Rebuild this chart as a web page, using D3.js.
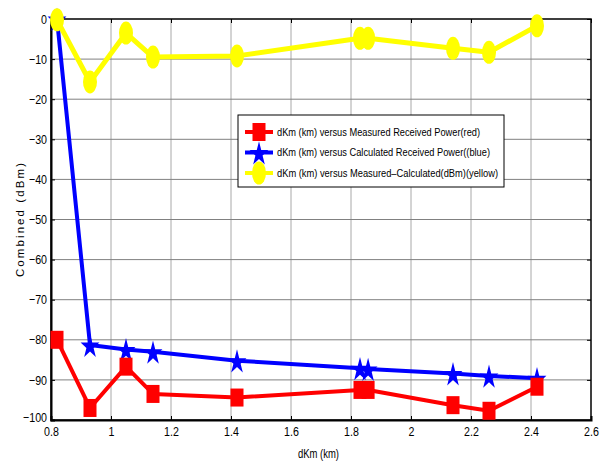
<!DOCTYPE html>
<html>
<head>
<meta charset="utf-8">
<script src="https://cdn.jsdelivr.net/npm/d3@7"></script>
<style>
  body { margin: 0; background: #fff; }
  svg { display: block; }
  text { font-family: "Liberation Sans", Arial, sans-serif; }
</style>
</head>
<body>
<svg id="chart" width="602" height="463"></svg>
<script>
// values
let distances = [0.82, 0.93, 1.05, 1.14, 1.42, 1.83, 1.857, 2.14, 2.26, 2.42];
let measured = [-80, -97, -86.7, -93.5, -94.4, -92.5, -92.5, -96.3, -97.7, -91.7];
let calculated = [0, -81.3, -82.4, -83, -85.2, -87.1, -87.3, -88.4, -89, -89.6];
let difference = [-0.2, -15.7, -3.5, -9.5, -9.2, -4.8, -4.8, -7.3, -8.3, -1.7];
let xTicks = [0.8, 1, 1.2, 1.4, 1.6, 1.8, 2, 2.2, 2.4, 2.6];
let yTicks = [0, -10, -20, -30, -40, -50, -60, -70, -80, -90, -100];
let legendLabels = [
  "dKm (km) versus Measured Received Power(red)",
  "dKm (km) versus Calculated Received Power((blue)",
  "dKm (km) versus Measured\u2013Calculated(dBm)(yellow)",
];

let svg = d3.select("#chart");

let dims = { left: 51, right: 591, top: 19, bottom: 420 };

let xScale = d3.scaleLinear().domain([0.8, 2.6]).range([dims.left, dims.right]);
let yScale = d3.scaleLinear().domain([-100, 0]).range([dims.bottom, dims.top]);

// squeeze a text to look like the narrow matlab font
function narrow(sel, k) {
  sel.each(function () {
    let w = this.getComputedTextLength();
    d3.select(this).attr("textLength", w * k).attr("lengthAdjust", "spacingAndGlyphs");
  });
}

// grid
let grid = svg.append("g");
grid.selectAll(".gx")
  .data(xTicks.slice(1, -1))
  .enter()
  .append("line")
  .attr("x1", (d) => xScale(d)).attr("x2", (d) => xScale(d))
  .attr("y1", dims.top).attr("y2", dims.bottom)
  .attr("stroke", "#a8a8a8").attr("stroke-width", 1);
grid.selectAll(".gy")
  .data(yTicks.slice(1, -1))
  .enter()
  .append("line")
  .attr("y1", (d) => yScale(d)).attr("y2", (d) => yScale(d))
  .attr("x1", dims.left).attr("x2", dims.right)
  .attr("stroke", "#808080").attr("stroke-width", 1);

// box
svg.append("rect")
  .attr("x", dims.left).attr("y", dims.top)
  .attr("width", dims.right - dims.left).attr("height", dims.bottom - dims.top)
  .attr("fill", "none").attr("stroke", "#000").attr("stroke-width", 1.5);

// axes
let xAxis = d3.axisBottom(xScale).tickValues(xTicks).tickSize(-4).tickPadding(9).tickFormat(d3.format("~g"));
let yAxis = d3.axisLeft(yScale).tickValues(yTicks).tickSize(-4).tickPadding(4).tickFormat(d3.format("~g"));

let gx = svg.append("g").attr("transform", "translate(0," + dims.bottom + ")").call(xAxis);
let gy = svg.append("g").attr("transform", "translate(" + dims.left + ",0)").call(yAxis);
[gx, gy].forEach((g) => {
  g.select(".domain").attr("stroke", "#000").attr("stroke-width", 2);
  g.selectAll(".tick line").attr("stroke", "#000");
  g.selectAll(".tick text").attr("font-size", 13).attr("fill", "#000").call(narrow, 0.82);
});
gx.selectAll(".tick text").attr("dy", "0.55em");
// the bottom y label sits just above the first x label
gy.selectAll(".tick text").filter((d) => d === -100).attr("dy", "0.1em");

// top and right ticks
svg.append("g").attr("transform", "translate(0," + dims.top + ")")
  .call(d3.axisTop(xScale).tickValues(xTicks).tickSize(-4).tickFormat(""))
  .call((g) => g.select(".domain").remove());
svg.append("g").attr("transform", "translate(" + dims.right + ",0)")
  .call(d3.axisRight(yScale).tickValues(yTicks).tickSize(-4).tickFormat(""))
  .call((g) => g.select(".domain").remove());

// labels
svg.append("text")
  .text("dKm (km)")
  .attr("x", 298).attr("y", 458)
  .attr("font-size", 12)
  .attr("textLength", 41).attr("lengthAdjust", "spacingAndGlyphs");
svg.append("text")
  .text("Combined (dBm)")
  .attr("transform", "translate(24,277) rotate(-90)")
  .attr("font-size", 11.5)
  .attr("textLength", 114).attr("lengthAdjust", "spacing");

let series = [
  { values: measured, color: "#ff0000", shape: "square" },
  { values: calculated, color: "#0000ff", shape: "star" },
  { values: difference, color: "#ffff00", shape: "circle" },
];

let line = d3.line().x((d) => xScale(d[0])).y((d) => yScale(d[1]));

function drawMarker(g, shape, color, x, y) {
  if (shape === "square") {
    g.append("rect")
      .attr("x", x - 6.5).attr("y", y - 9).attr("width", 13).attr("height", 18)
      .attr("fill", color);
  } else if (shape === "circle") {
    g.append("ellipse")
      .attr("cx", x).attr("cy", y).attr("rx", 7).attr("ry", 11.5)
      .attr("fill", color);
  } else {
    g.append("path")
      .attr("d", d3.symbol().type(d3.symbolStar).size(110)())
      .attr("transform", "translate(" + x + "," + (y + 1.5) + ") scale(1,1.3)")
      .attr("fill", color);
  }
}

// blue first, then red, then yellow (yellow on top)
[series[1], series[0], series[2]].forEach((s) => {
  let pts = distances.map((d, i) => [d, s.values[i]]);
  let g = svg.append("g");
  g.append("path")
    .attr("d", line(pts))
    .attr("fill", "none")
    .attr("stroke", s.color)
    .attr("stroke-width", s.shape === "circle" ? 5 : 4)
    .attr("stroke-linejoin", "round");
  pts.forEach((p) => drawMarker(g, s.shape, s.color, xScale(p[0]), yScale(p[1])));
});

// legend
let legendWidths = [203, 213, 221];
let legend = svg.append("g");
legend.append("rect")
  .attr("x", 238).attr("y", 115).attr("width", 266).attr("height", 72)
  .attr("fill", "#fff").attr("stroke", "#000").attr("stroke-width", 1);
series.forEach((s, i) => {
  let y = 132 + i * 20.5;
  legend.append("line")
    .attr("x1", 245).attr("x2", 273).attr("y1", y).attr("y2", y)
    .attr("stroke", s.color).attr("stroke-width", 4);
  drawMarker(legend, s.shape, s.color, 259, y);
  legend.append("text")
    .text(legendLabels[i])
    .attr("x", 277).attr("y", y).attr("dy", "0.35em")
    .attr("font-size", 11)
    .attr("textLength", legendWidths[i]).attr("lengthAdjust", "spacingAndGlyphs");
});
</script>
</body>
</html>
